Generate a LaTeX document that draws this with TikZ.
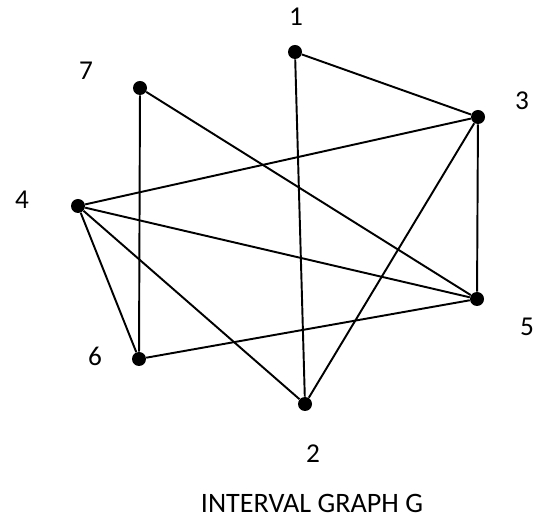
\documentclass[tikz,border=0pt]{standalone}
\usepackage{fontspec}
\setmainfont{Carlito}
\usepackage{tikz}
\usetikzlibrary{positioning}
\tikzset{
  every node/.style={font=\fontsize{15.5}{18}\selectfont},
  vertex/.style={
    circle, fill=black, inner sep=0pt,
    minimum size=0.28cm
  },
  edge/.style={
    line width=1.1pt, draw=black
  },
  vlabel/.style={
    inner sep=0pt
  },
}
\begin{document}
\begin{tikzpicture}
  \useasboundingbox (0,0) rectangle (10.68,10.42);
  \node[vertex] (v1) at (5.90,9.38) {};
  \node[vertex] (v7) at (2.80,8.66) {};
  \node[vertex] (v3) at (9.56,8.08) {};
  \node[vertex] (v4) at (1.56,6.30) {};
  \node[vertex] (v5) at (9.54,4.44) {};
  \node[vertex] (v6) at (2.78,3.24) {};
  \node[vertex] (v2) at (6.10,2.34) {};
  \node[vlabel] (l1) at (5.92,10.08) {1};
  \node[vlabel] (l7) at (1.72,9.00) {7};
  \node[vlabel] (l3) at (10.44,8.40) {3};
  \node[vlabel] (l4) at (0.44,6.42) {4};
  \node[vlabel] (l5) at (10.54,3.88) {5};
  \node[vlabel] (l6) at (1.90,3.30) {6};
  \node[vlabel] (l2) at (6.26,1.34) {2};
  \draw[edge] (v1) -- (v3);
  \draw[edge] (v1) -- (v2);
  \draw[edge] (v7) -- (v6);
  \draw[edge] (v7) -- (v5);
  \draw[edge] (v3) -- (v4);
  \draw[edge] (v3) -- (v5);
  \draw[edge] (v3) -- (v2);
  \draw[edge] (v4) -- (v5);
  \draw[edge] (v4) -- (v6);
  \draw[edge] (v4) -- (v2);
  \draw[edge] (v6) -- (v5);
  \node[vlabel, font=\fontsize{16}{19}\selectfont] (title) at (6.24,0.36) {INTERVAL GRAPH G};
\end{tikzpicture}
\end{document}
